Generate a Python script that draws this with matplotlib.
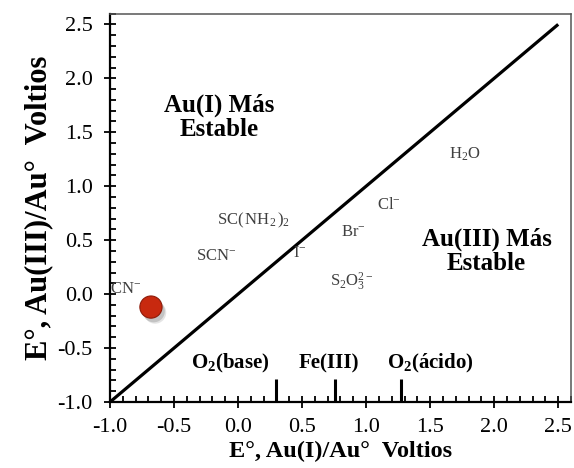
import numpy as np
import matplotlib
matplotlib.use("Agg")
import matplotlib.pyplot as plt
import matplotlib.patheffects as pe
from matplotlib.ticker import MultipleLocator, FormatStrFormatter

plt.rcParams['font.family'] = ['Liberation Serif', 'DejaVu Serif']
plt.rcParams['mathtext.fontset'] = 'custom'
plt.rcParams['mathtext.rm'] = 'Liberation Serif'
plt.rcParams['mathtext.it'] = 'Liberation Serif:italic'
plt.rcParams['mathtext.bf'] = 'Liberation Serif:bold'

# ---- Data ----
diag_x = [-1.0, 2.5]
diag_y = [-1.0, 2.5]

species_labels = ['CN$^{-}$', 'SCN$^{-}$', 'SC($\\,$NH$_{2}\\,$)$_2$', 'I$^{-}$', 'Br$^{-}$',
                  'Cl$^{-}$', 'S$_2$O$_3^{2-}$', 'H$_2$O']
species_x = [-0.88, -0.17, 0.12, 0.48, 0.90, 1.18, 0.89, 1.77]
species_y = [0.05, 0.35, 0.68, 0.38, 0.58, 0.83, 0.11, 1.30]

oxid_labels = ['O$_{\\mathbf{2}}$(base)', 'Fe(III)', 'O$_{\\mathbf{2}}$(ácido)']
oxid_x = [0.30, 0.76, 1.27]
oxid_top = -0.79
oxid_label_x = [-0.06, 0.71, 1.50]

point_x = [-0.68]
point_y = [-0.12]

region_labels = ['Au(I) Más\nEstable', 'Au(III) Más\nEstable']
region_x = [-0.15, 1.94]
region_y = [1.64, 0.40]

# ---- Plot ----
fig = plt.figure(figsize=(5.74, 4.68), dpi=100)
ax = fig.add_axes([0.1916, 0.141, 0.8032, 0.830])

ax.plot(diag_x, diag_y, color='black', lw=2.3, solid_capstyle='butt', zorder=3)

# oxidant markers standing on the x axis
ax.vlines(oxid_x, -1.0, oxid_top, color='black', lw=2.2, zorder=3)
for lbl, lx in zip(oxid_labels, oxid_label_x):
    ax.text(lx, -0.64, lbl, ha='center', va='center', fontsize=15,
            fontweight='bold', color='black')

for lbl, sx, sy in zip(species_labels, species_x, species_y):
    ax.text(sx, sy, lbl, ha='center', va='center', fontsize=12, color='#404040')

for lbl, rx, ry in zip(region_labels, region_x, region_y):
    ax.text(rx, ry, lbl, ha='center', va='center', fontsize=18,
            fontweight='bold', color='black', linespacing=1.05)

# red point with a soft drop shadow
shadow = [pe.SimplePatchShadow(offset=(3, -4), shadow_rgbFace='#888888', alpha=0.22),
          pe.SimplePatchShadow(offset=(2, -3), shadow_rgbFace='#777777', alpha=0.3),
          pe.Normal()]
ax.scatter(point_x, point_y, s=255, color='#C8290F', edgecolor='#8E1A08',
           linewidth=0.8, zorder=5, path_effects=shadow)

ax.set_xlim(-1.0, 2.6)
ax.set_ylim(-1.0, 2.6)
ax.set_xticks(np.arange(-1.0, 2.51, 0.5))
ax.set_yticks(np.arange(-1.0, 2.51, 0.5))
ax.xaxis.set_minor_locator(MultipleLocator(0.1))
ax.yaxis.set_minor_locator(MultipleLocator(0.1))
ax.xaxis.set_major_formatter(FormatStrFormatter('%.1f'))
ax.yaxis.set_major_formatter(FormatStrFormatter('%.1f'))

ax.tick_params(which='major', direction='inout', length=9, width=1.3,
               labelsize=16, pad=7)
ax.tick_params(which='minor', direction='in', length=4, width=1.3)
ax.tick_params(axis='y', which='major', pad=8)

for side in ['left', 'bottom']:
    ax.spines[side].set_linewidth(1.6)
    ax.spines[side].set_color('black')
for side in ['top', 'right']:
    ax.spines[side].set_linewidth(1.1)
    ax.spines[side].set_color('#555555')

ax.set_xlabel('E°, Au(I)/Au°  Voltios', fontsize=17.5, fontweight='bold', labelpad=3)
ax.set_ylabel('E°, Au(III)/Au°  Voltios', fontsize=22, fontweight='bold', labelpad=3)

fig.savefig('out.png', dpi=100)
